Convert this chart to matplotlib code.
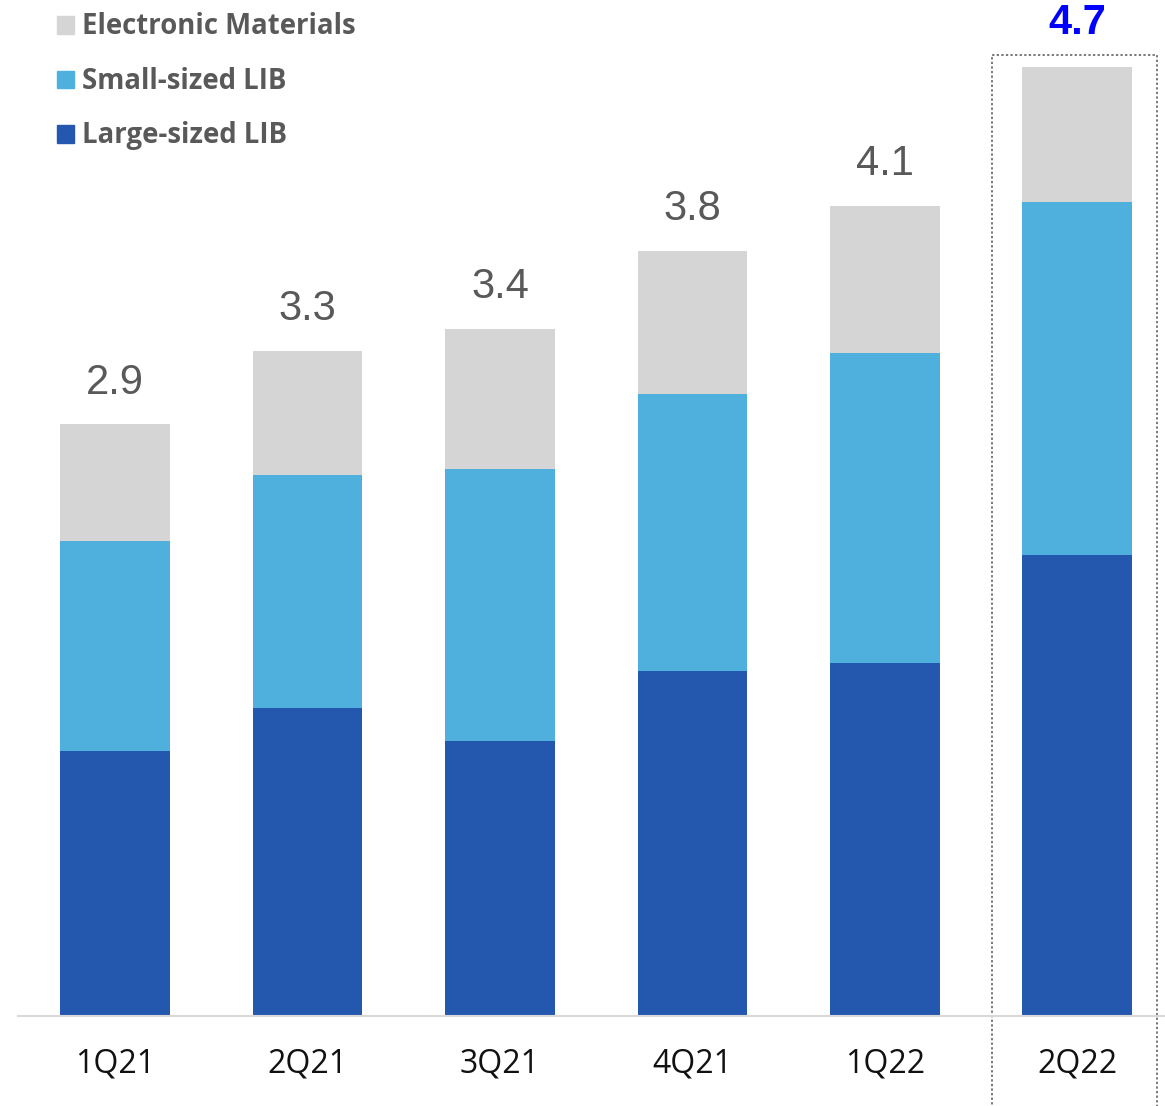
import matplotlib.pyplot as plt
from matplotlib.patches import Rectangle
import numpy as np

# data (trillion KRW)
quarters = ['1Q21', '2Q21', '3Q21', '4Q21', '1Q22', '2Q22']
large_lib = [1.30, 1.51, 1.35, 1.69, 1.73, 2.26]
small_lib = [1.03, 1.14, 1.33, 1.36, 1.52, 1.73]
electronic = [0.57, 0.61, 0.69, 0.70, 0.72, 0.66]
totals = ['2.9', '3.3', '3.4', '3.8', '4.1', '4.7']
series_names = ['Electronic Materials', 'Small-sized LIB', 'Large-sized LIB']

c_large = '#2457AE'
c_small = '#50B0DD'
c_elec = '#D5D5D5'

W, H = 1165, 1106
fig = plt.figure(figsize=(W / 100, H / 100), dpi=100)
ax = fig.add_axes([18 / W, 90 / H, 1 - 18 / W, 1016 / H])

x = np.arange(len(quarters))
w = 0.571
b1 = np.array(large_lib)
b2 = b1 + np.array(small_lib)
b3 = b2 + np.array(electronic)

ax.bar(x, large_lib, w, color=c_large)
ax.bar(x, small_lib, w, bottom=b1, color=c_small)
ax.bar(x, electronic, w, bottom=b2, color=c_elec)

for i, t in enumerate(totals):
    last = i == len(totals) - 1
    ax.annotate(t, (x[i], b3[i]), xytext=(0, 32 if last else 30),
                textcoords='offset points', ha='center', va='center',
                fontsize=30, family='Liberation Sans',
                color='#0000FF' if last else '#595959',
                fontweight='bold' if last else 'normal')

ax.set_xlim(-0.504, 5.455)
ax.set_ylim(0, 1016 / 204)

for s in ['top', 'right', 'left']:
    ax.spines[s].set_visible(False)
ax.spines['bottom'].set_color('#D9D9D9')
ax.spines['bottom'].set_linewidth(1.5)
ax.set_yticks([])
ax.set_xticks(x)
ax.set_xticklabels(quarters, fontsize=23, family='Open Sans', color='#111111')
ax.tick_params(axis='x', length=0, pad=23)

# dotted highlight box around latest quarter
ax.add_patch(Rectangle((4.556, -0.5), 0.857, 0.5 + 961 / 204, fill=False,
                       ls=(0, (1.5, 1.5)), lw=1.1, ec='#555555', clip_on=False))

# legend, drawn by hand (square + bold grey label)
for k, (name, col) in enumerate(zip(series_names, [c_elec, c_small, c_large])):
    yc = 25 + 54.5 * k
    fig.patches.append(Rectangle((57 / W, 1 - (yc + 8.5) / H), 17 / W, 17 / H,
                                 color=col, transform=fig.transFigure))
    fig.text(82 / W, 1 - (yc + 2) / H, name, ha='left', va='center',
             fontsize=19.8, family='Open Sans', fontweight='bold', color='#595959')

fig.savefig('out.png', dpi=100)
